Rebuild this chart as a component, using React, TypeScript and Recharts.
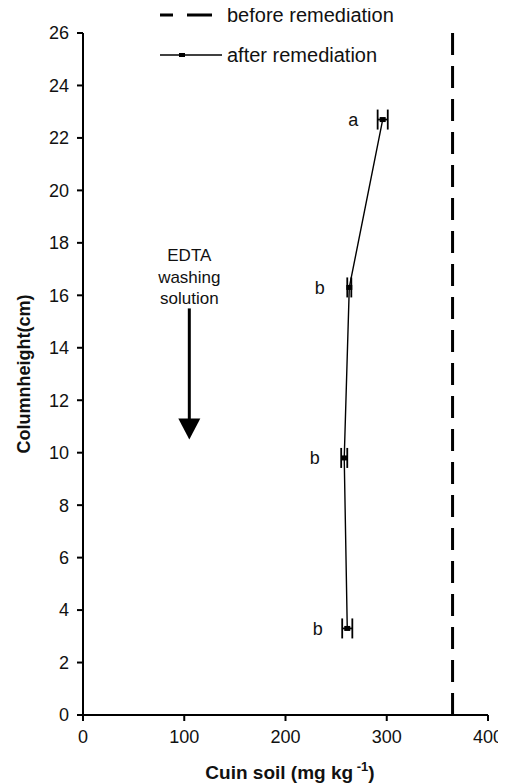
import * as React from 'react';
import {
  ComposedChart, Scatter, XAxis, YAxis, ReferenceLine, ReferenceDot, ErrorBar, LabelList, Legend,
} from 'recharts';

// after remediation profile (Cu in soil vs column height)
const heights = [3.3, 9.8, 16.3, 22.7];
const cuAfter = [261, 258, 263, 296];
const cuErr = [5, 3, 2, 5];
const letters = ['b', 'b', 'b', 'a'];
const cuBefore = 365;
const xTicks = [0, 100, 200, 300, 400];
const yTicks = [0, 2, 4, 6, 8, 10, 12, 14, 16, 18, 20, 22, 24, 26];
const legendNames = ['before remediation', 'after remediation'];

const data = heights.map((h, i) => ({ h, cu: cuAfter[i], err: cuErr[i], grp: letters[i] }));

const FONT = '"Liberation Sans", Arial, sans-serif';

const Square = (props: any) => {
  const { cx, cy } = props;
  return <rect x={cx - 3} y={cy - 2.5} width={6} height={5} fill="#000" />;
};

const LegendBox = () => (
  <svg width={340} height={72} style={{ fontFamily: FONT, fontSize: 20 }}>
    <line x1={2} y1={15} x2={54} y2={15} stroke="#000" strokeWidth={3} strokeDasharray="13 14 25 100" />
    <text x={69} y={15} dy="0.35em" fill="#111">{legendNames[0]}</text>
    <line x1={2} y1={55} x2={64} y2={55} stroke="#000" strokeWidth={1.3} />
    <rect x={21} y={53} width={6} height={4} fill="#000" />
    <text x={69} y={55} dy="0.35em" fill="#111">{legendNames[1]}</text>
  </svg>
);

const ArrowText = (props: any) => {
  const { cx, cy } = props;
  return (
    <text x={cx} y={cy} textAnchor="middle" fill="#111" style={{ fontFamily: FONT, fontSize: 17 }}>
      <tspan x={cx} dy="0">EDTA</tspan>
      <tspan x={cx} dy="21.5">washing</tspan>
      <tspan x={cx} dy="21.5">solution</tspan>
    </text>
  );
};

const ArrowHead = (props: any) => {
  const { cx, cy } = props;
  return <polygon points={`${cx - 11},${cy - 21} ${cx + 11},${cy - 21} ${cx},${cy}`} fill="#000" />;
};

const XLabel = () => (
  <text x={282} y={771} textAnchor="middle" fill="#111" style={{ fontFamily: FONT, fontSize: 19, fontWeight: 'bold' }}>
    Cuin soil (mg kg<tspan dy="-8" fontSize={13}> -1</tspan><tspan dy="8">)</tspan>
  </text>
);

const YLabel = () => (
  <text
    x={22}
    y={366}
    transform="rotate(-90, 22, 366)"
    textAnchor="middle"
    fill="#111"
    style={{ fontFamily: FONT, fontSize: 18, fontWeight: 'bold' }}
  >
    Columnheight(cm)
  </text>
);

export default function App() {
  return (
    <ComposedChart
      width={498}
      height={776}
      data={data}
      margin={{ top: 25, right: 18, left: 0, bottom: 0 }}
      style={{ fontFamily: FONT }}
    >
      <XAxis
        type="number"
        dataKey="cu"
        domain={[0, 400]}
        ticks={xTicks}
        height={69}
        axisLine={{ stroke: '#000', strokeWidth: 2 }}
        tickLine={{ stroke: '#000', strokeWidth: 2 }}
        tickSize={6}
        tickMargin={9}
        tick={{ fill: '#111', fontSize: 18 }}
        label={<XLabel />}
      />
      <YAxis
        type="number"
        dataKey="h"
        domain={[0, 26]}
        ticks={yTicks}
        width={75}
        axisLine={{ stroke: '#000', strokeWidth: 2 }}
        tickLine={{ stroke: '#000', strokeWidth: 2 }}
        tickSize={6}
        tickMargin={8}
        tick={{ fill: '#111', fontSize: 18 }}
        label={<YLabel />}
      />
      <Legend
        layout="vertical"
        align="center"
        verticalAlign="middle"
        content={() => <LegendBox />}
        wrapperStyle={{ position: 'absolute', left: 150, top: -8, width: 340, height: 72 }}
      />
      <ReferenceLine x={cuBefore} stroke="#000" strokeWidth={3} strokeDasharray="22 11" />
      <ReferenceLine segment={[{ x: 105, y: 15.5 }, { x: 105, y: 11.2 }]} stroke="#000" strokeWidth={3} />
      <ReferenceDot x={105} y={10.5} r={0} shape={<ArrowHead />} />
      <ReferenceDot x={105} y={17.3} r={0} shape={<ArrowText />} />
      <Scatter
        dataKey="h"
        name={legendNames[1]}
        line={{ stroke: '#000', strokeWidth: 1.4 }}
        shape={<Square />}
        isAnimationActive={false}
      >
        <ErrorBar dataKey="err" direction="x" width={10} stroke="#000" strokeWidth={1.8} />
        <LabelList dataKey="grp" position="left" offset={20} style={{ fill: '#111', fontSize: 18 }} />
      </Scatter>
    </ComposedChart>
  );
}
